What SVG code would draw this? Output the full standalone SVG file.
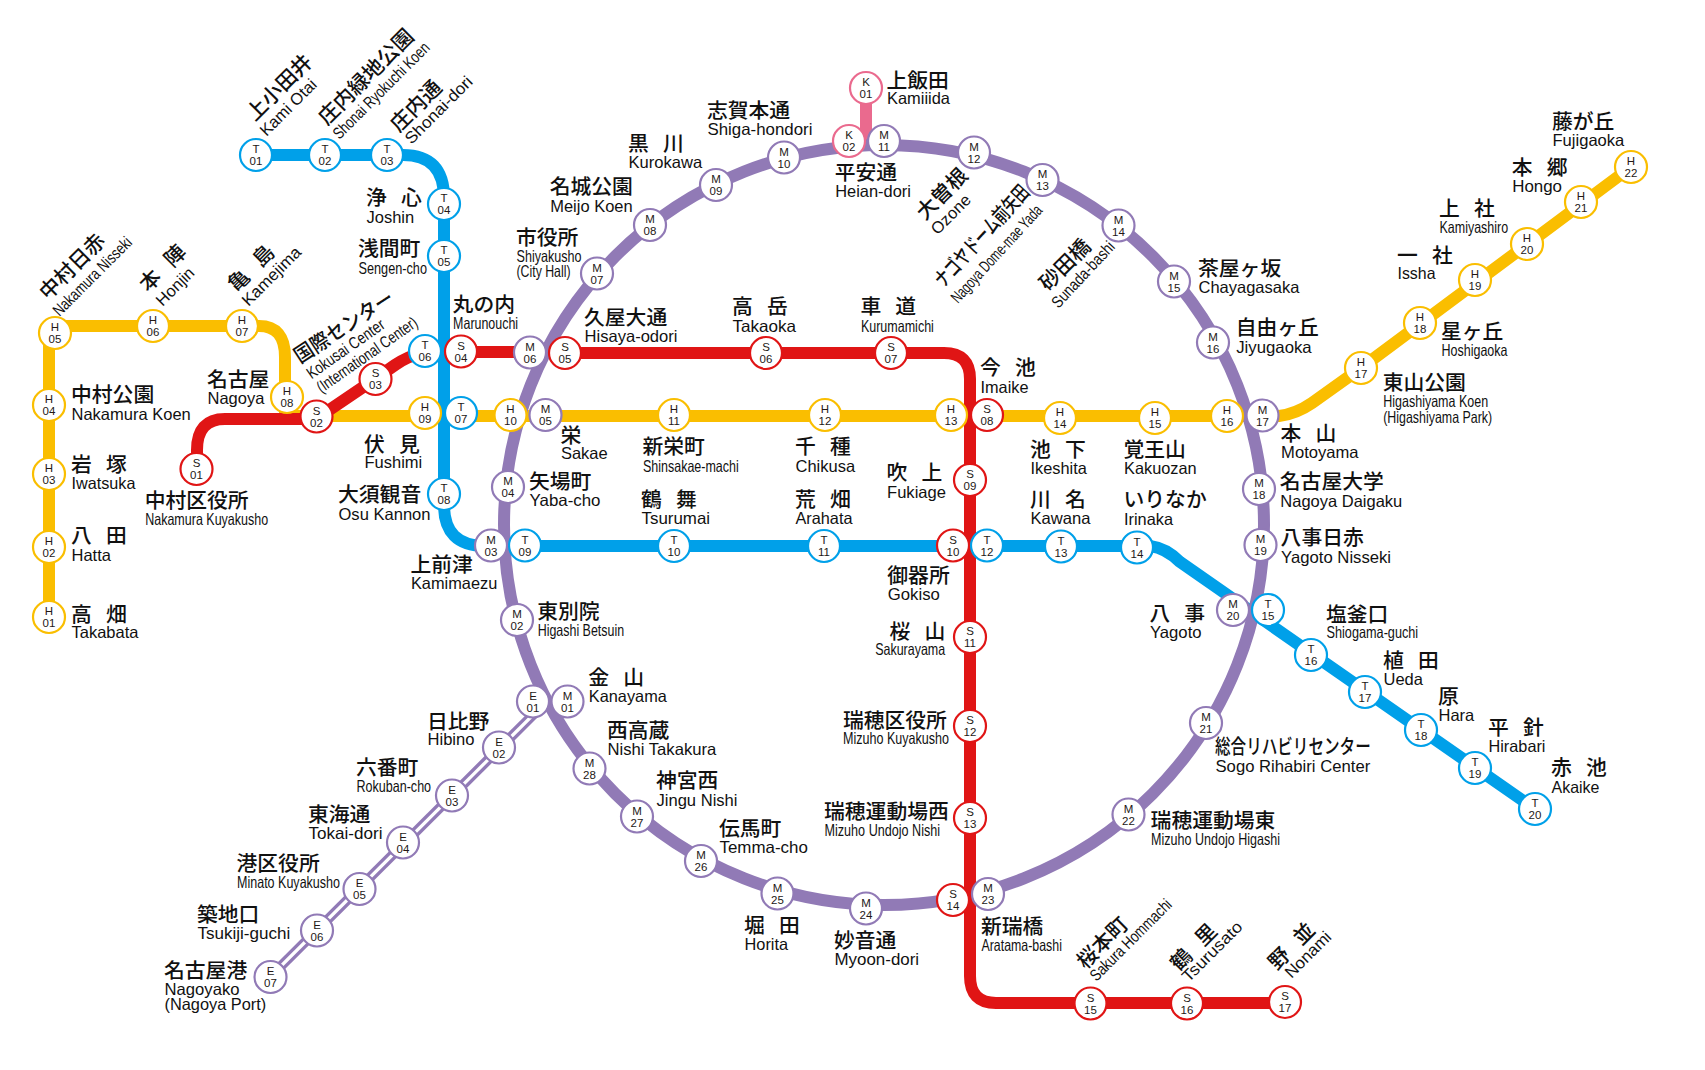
<svg xmlns="http://www.w3.org/2000/svg" width="1705" height="1070" viewBox="0 0 1705 1070">
<style>
.bg{fill:#fff}
.l{fill:none;stroke-width:12}
.ly{stroke:#fabe00}.lb{stroke:#00a0e9}.lr{stroke:#e01515}.lm{stroke:#917ab6}.lk{stroke:#ea6a8e}
.ew{fill:none;stroke:#fff;stroke-width:3.2}.ep{fill:none;stroke:#917ab6;stroke-width:10}
circle.n{fill:#fff;stroke-width:2.2}
.T{stroke:#00a0e9}.H{stroke:#fabe00}.S{stroke:#e01515}.M,.E{stroke:#917ab6}.K{stroke:#ea6a8e}
.c{font:11.5px "Liberation Sans",Arial,sans-serif;text-anchor:middle;fill:#231815}
.j{font:500 20.8px "Noto Sans CJK JP","Noto Sans CJK SC",sans-serif;fill:#111;translate:-1px 0}
.s{word-spacing:9.5px}
.e{font:16.5px "Liberation Sans",Arial,sans-serif;fill:#111;translate:-.5px 0}
</style>
<rect class="bg" width="1705" height="1070"/>
<g id="connectors">
<path class="l ly" d="M49,617V333L55,326H259Q285,326 285,357V416H1279Q1296,414 1312,403L1361,368L1631,167"/>
<path class="l lr" d="M197,469V450Q197,419 225,419H316L375,379L395,365Q408,356 425,352H530"/>
<path class="l lb" d="M256,155H403Q444,155 444,198V505Q444,546 485,546H1150Q1166,548 1180,562L1535,809"/>
<path class="ep" d="M270,977L540,708"/>
<path class="ew" d="M270,977L540,708"/>
<path class="l lk" d="M866,88V142"/>
<circle class="l lm" cx="884" cy="525" r="380"/>
<path class="l lr" d="M565,353H944Q970,353 970,379V976Q970,1003 996,1003H1285"/>
</g>
<g id="T01"><circle class="n T" cx="256" cy="155" r="16"/><text class="c" x="256" y="153">T</text><text class="c" x="256" y="165">01</text><text class="j" x="256" y="122" transform="rotate(-45 256 122)">上小田井</text><text class="e" x="267" y="137" transform="rotate(-45 267 137)">Kami Otai</text></g>
<g id="T02"><circle class="n T" cx="325" cy="155" r="16"/><text class="c" x="325" y="153">T</text><text class="c" x="325" y="165">02</text><text class="j" x="328" y="126" transform="rotate(-45 328 126)">庄内緑地公園</text><text class="e" x="340" y="140" transform="rotate(-45 340 140)" textLength="129" lengthAdjust="spacingAndGlyphs">Shonai Ryokuchi Koen</text></g>
<g id="T03"><circle class="n T" cx="387" cy="155" r="16"/><text class="c" x="387" y="153">T</text><text class="c" x="387" y="165">03</text><text class="j" x="400" y="133" transform="rotate(-45 400 133)">庄内通</text><text class="e" x="412" y="145" transform="rotate(-45 412 145)" textLength="88" lengthAdjust="spacingAndGlyphs">Shonai-dori</text></g>
<g id="T04"><circle class="n T" cx="444" cy="204" r="16"/><text class="c" x="444" y="202">T</text><text class="c" x="444" y="214">04</text><text class="j s" x="367" y="205">浄 心</text><text class="e" x="367" y="223">Joshin</text></g>
<g id="T05"><circle class="n T" cx="444" cy="256" r="16"/><text class="c" x="444" y="254">T</text><text class="c" x="444" y="266">05</text><text class="j" x="359" y="256">浅間町</text><text class="e" x="359" y="274" textLength="68.5" lengthAdjust="spacingAndGlyphs">Sengen-cho</text></g>
<g id="T06"><circle class="n T" cx="425" cy="351" r="16"/><text class="c" x="425" y="349">T</text><text class="c" x="425" y="361">06</text></g>
<g id="T07"><circle class="n T" cx="461" cy="413" r="16"/><text class="c" x="461" y="411">T</text><text class="c" x="461" y="423">07</text></g>
<g id="T08"><circle class="n T" cx="444" cy="494" r="16"/><text class="c" x="444" y="492">T</text><text class="c" x="444" y="504">08</text><text class="j" x="339" y="502">大須観音</text><text class="e" x="339" y="520" textLength="92" lengthAdjust="spacingAndGlyphs">Osu Kannon</text></g>
<g id="T09"><circle class="n T" cx="525" cy="545.500" r="16"/><text class="c" x="525" y="543.500">T</text><text class="c" x="525" y="555.500">09</text></g>
<g id="T10"><circle class="n T" cx="674" cy="546" r="16"/><text class="c" x="674" y="544">T</text><text class="c" x="674" y="556">10</text><text class="j s" x="642" y="506.500">鶴 舞</text><text class="e" x="642" y="524" textLength="68.600" lengthAdjust="spacingAndGlyphs">Tsurumai</text></g>
<g id="T11"><circle class="n T" cx="824" cy="546" r="16"/><text class="c" x="824" y="544">T</text><text class="c" x="824" y="556">11</text><text class="j s" x="796" y="506.500">荒 畑</text><text class="e" x="796" y="524" textLength="57" lengthAdjust="spacingAndGlyphs">Arahata</text></g>
<g id="T12"><circle class="n T" cx="987" cy="545.500" r="16"/><text class="c" x="987" y="543.500">T</text><text class="c" x="987" y="555.500">12</text><text class="j s" x="1031" y="506.500">川 名</text><text class="e" x="1031" y="524" textLength="60" lengthAdjust="spacingAndGlyphs">Kawana</text></g>
<g id="T13"><circle class="n T" cx="1061" cy="546.500" r="16"/><text class="c" x="1061" y="544.500">T</text><text class="c" x="1061" y="556.500">13</text><text class="j" x="1124.500" y="506.500">いりなか</text><text class="e" x="1124.500" y="525" textLength="49" lengthAdjust="spacingAndGlyphs">Irinaka</text></g>
<g id="T14"><circle class="n T" cx="1137" cy="547.500" r="16"/><text class="c" x="1137" y="545.500">T</text><text class="c" x="1137" y="557.500">14</text></g>
<g id="T15"><circle class="n T" cx="1268" cy="610" r="16"/><text class="c" x="1268" y="608">T</text><text class="c" x="1268" y="620">15</text></g>
<g id="T16"><circle class="n T" cx="1311" cy="655" r="16"/><text class="c" x="1311" y="653">T</text><text class="c" x="1311" y="665">16</text><text class="j" x="1327" y="621.500">塩釜口</text><text class="e" x="1327" y="638" textLength="91.700" lengthAdjust="spacingAndGlyphs">Shiogama-guchi</text></g>
<g id="T17"><circle class="n T" cx="1365" cy="692" r="16"/><text class="c" x="1365" y="690">T</text><text class="c" x="1365" y="702">17</text><text class="j s" x="1384" y="667.500">植 田</text><text class="e" x="1384" y="685">Ueda</text></g>
<g id="T18"><circle class="n T" cx="1421" cy="730" r="16"/><text class="c" x="1421" y="728">T</text><text class="c" x="1421" y="740">18</text><text class="j" x="1439" y="703.500">原</text><text class="e" x="1439" y="720.500">Hara</text></g>
<g id="T19"><circle class="n T" cx="1475" cy="768" r="16"/><text class="c" x="1475" y="766">T</text><text class="c" x="1475" y="778">19</text><text class="j s" x="1489" y="735">平 針</text><text class="e" x="1489" y="752" textLength="57" lengthAdjust="spacingAndGlyphs">Hirabari</text></g>
<g id="T20"><circle class="n T" cx="1535" cy="809" r="16"/><text class="c" x="1535" y="807">T</text><text class="c" x="1535" y="819">20</text><text class="j s" x="1552" y="775">赤 池</text><text class="e" x="1552" y="792.500" textLength="48" lengthAdjust="spacingAndGlyphs">Akaike</text></g>

<g id="H01"><circle class="n H" cx="49" cy="617" r="16"/><text class="c" x="49" y="615">H</text><text class="c" x="49" y="627">01</text><text class="j s" x="72" y="621.500">高 畑</text><text class="e" x="72" y="638">Takabata</text></g>
<g id="H02"><circle class="n H" cx="49" cy="547" r="16"/><text class="c" x="49" y="545">H</text><text class="c" x="49" y="557">02</text><text class="j s" x="72" y="543">八 田</text><text class="e" x="72" y="561">Hatta</text></g>
<g id="H03"><circle class="n H" cx="49" cy="474" r="16"/><text class="c" x="49" y="472">H</text><text class="c" x="49" y="484">03</text><text class="j s" x="72" y="471.500">岩 塚</text><text class="e" x="72" y="489" textLength="64" lengthAdjust="spacingAndGlyphs">Iwatsuka</text></g>
<g id="H04"><circle class="n H" cx="49" cy="405" r="16"/><text class="c" x="49" y="403">H</text><text class="c" x="49" y="415">04</text><text class="j" x="72" y="402">中村公園</text><text class="e" x="72" y="419.500">Nakamura Koen</text></g>
<g id="H05"><circle class="n H" cx="55" cy="333" r="16"/><text class="c" x="55" y="331">H</text><text class="c" x="55" y="343">05</text><text class="j" x="49" y="301" transform="rotate(-45 49 301)">中村日赤</text><text class="e" x="60" y="317" transform="rotate(-45 60 317)" textLength="104" lengthAdjust="spacingAndGlyphs">Nakamura Nisseki</text></g>
<g id="H06"><circle class="n H" cx="153" cy="326" r="16"/><text class="c" x="153" y="324">H</text><text class="c" x="153" y="336">06</text><text class="j s" x="149" y="293" transform="rotate(-45 149 293)">本 陣</text><text class="e" x="163" y="307" transform="rotate(-45 163 307)">Honjin</text></g>
<g id="H07"><circle class="n H" cx="242" cy="326" r="16"/><text class="c" x="242" y="324">H</text><text class="c" x="242" y="336">07</text><text class="j s" x="237.500" y="293" transform="rotate(-45 237.500 293)">亀 島</text><text class="e" x="249" y="307" transform="rotate(-45 249 307)" textLength="76" lengthAdjust="spacingAndGlyphs">Kamejima</text></g>
<g id="H08"><circle class="n H" cx="287" cy="397" r="16"/><text class="c" x="287" y="395">H</text><text class="c" x="287" y="407">08</text><text class="j" x="208" y="387">名古屋</text><text class="e" x="208" y="404">Nagoya</text></g>
<g id="H09"><circle class="n H" cx="425" cy="413" r="16"/><text class="c" x="425" y="411">H</text><text class="c" x="425" y="423">09</text><text class="j s" x="365" y="451.500">伏 見</text><text class="e" x="365" y="468">Fushimi</text></g>
<g id="H10"><circle class="n H" cx="510.500" cy="415" r="16"/><text class="c" x="510.500" y="413">H</text><text class="c" x="510.500" y="425">10</text></g>
<g id="H11"><circle class="n H" cx="674" cy="415" r="16"/><text class="c" x="674" y="413">H</text><text class="c" x="674" y="425">11</text><text class="j" x="643.500" y="454">新栄町</text><text class="e" x="643.500" y="471.500" textLength="95.700" lengthAdjust="spacingAndGlyphs">Shinsakae-machi</text></g>
<g id="H12"><circle class="n H" cx="825" cy="415" r="16"/><text class="c" x="825" y="413">H</text><text class="c" x="825" y="425">12</text><text class="j s" x="796" y="454">千 種</text><text class="e" x="796" y="471.500" textLength="59.600" lengthAdjust="spacingAndGlyphs">Chikusa</text></g>
<g id="H13"><circle class="n H" cx="951" cy="415" r="16"/><text class="c" x="951" y="413">H</text><text class="c" x="951" y="425">13</text></g>
<g id="H14"><circle class="n H" cx="1060" cy="418" r="16"/><text class="c" x="1060" y="416">H</text><text class="c" x="1060" y="428">14</text><text class="j s" x="1031" y="456.500">池 下</text><text class="e" x="1031" y="474" textLength="56.400" lengthAdjust="spacingAndGlyphs">Ikeshita</text></g>
<g id="H15"><circle class="n H" cx="1155" cy="418" r="16"/><text class="c" x="1155" y="416">H</text><text class="c" x="1155" y="428">15</text><text class="j" x="1124.500" y="456.500">覚王山</text><text class="e" x="1124.500" y="474" textLength="72.600" lengthAdjust="spacingAndGlyphs">Kakuozan</text></g>
<g id="H16"><circle class="n H" cx="1227" cy="416" r="16"/><text class="c" x="1227" y="414">H</text><text class="c" x="1227" y="426">16</text></g>
<g id="H17"><circle class="n H" cx="1361" cy="368" r="16"/><text class="c" x="1361" y="366">H</text><text class="c" x="1361" y="378">17</text><text class="j" x="1383.700" y="389.500">東山公園</text><text class="e" x="1383.700" y="406.500" textLength="105" lengthAdjust="spacingAndGlyphs">Higashiyama Koen</text><text class="e" x="1383.700" y="423.300" textLength="109" lengthAdjust="spacingAndGlyphs">(Higashiyama Park)</text></g>
<g id="H18"><circle class="n H" cx="1420" cy="323" r="16"/><text class="c" x="1420" y="321">H</text><text class="c" x="1420" y="333">18</text><text class="j" x="1442" y="338.500">星ヶ丘</text><text class="e" x="1442" y="356" textLength="66" lengthAdjust="spacingAndGlyphs">Hoshigaoka</text></g>
<g id="H19"><circle class="n H" cx="1475" cy="280" r="16"/><text class="c" x="1475" y="278">H</text><text class="c" x="1475" y="290">19</text><text class="j s" x="1398" y="262.500">一 社</text><text class="e" x="1398" y="279" textLength="38" lengthAdjust="spacingAndGlyphs">Issha</text></g>
<g id="H20"><circle class="n H" cx="1527" cy="244" r="16"/><text class="c" x="1527" y="242">H</text><text class="c" x="1527" y="254">20</text><text class="j s" x="1440" y="216">上 社</text><text class="e" x="1440" y="232.500" textLength="68.600" lengthAdjust="spacingAndGlyphs">Kamiyashiro</text></g>
<g id="H21"><circle class="n H" cx="1581" cy="202" r="16"/><text class="c" x="1581" y="200">H</text><text class="c" x="1581" y="212">21</text><text class="j s" x="1512.700" y="175">本 郷</text><text class="e" x="1512.700" y="191.500" textLength="49.800" lengthAdjust="spacingAndGlyphs">Hongo</text></g>
<g id="H22"><circle class="n H" cx="1631" cy="167" r="16"/><text class="c" x="1631" y="165">H</text><text class="c" x="1631" y="177">22</text><text class="j" x="1553" y="128.500">藤が丘</text><text class="e" x="1553" y="145.500" textLength="71.800" lengthAdjust="spacingAndGlyphs">Fujigaoka</text></g>

<g id="S01"><circle class="n S" cx="196.500" cy="469" r="16"/><text class="c" x="196.500" y="467">S</text><text class="c" x="196.500" y="479">01</text><text class="j" x="145.700" y="507.500">中村区役所</text><text class="e" x="145.700" y="525" textLength="123" lengthAdjust="spacingAndGlyphs">Nakamura Kuyakusho</text></g>
<g id="S02"><circle class="n S" cx="316.500" cy="416.500" r="16"/><text class="c" x="316.500" y="414.500">S</text><text class="c" x="316.500" y="426.500">02</text></g>
<g id="S03"><circle class="n S" cx="375.500" cy="379" r="16"/><text class="c" x="375.500" y="377">S</text><text class="c" x="375.500" y="389">03</text><text class="j" x="301" y="364" transform="rotate(-33 301 364)" textLength="114" lengthAdjust="spacingAndGlyphs">国際センター</text><text class="e" x="312" y="379.500" transform="rotate(-35 312 379.500)" textLength="91" lengthAdjust="spacingAndGlyphs">Kokusai Center</text><text class="e" x="322" y="393.500" transform="rotate(-35 322 393.500)" textLength="119" lengthAdjust="spacingAndGlyphs">(International Center)</text></g>
<g id="S04"><circle class="n S" cx="461" cy="351.500" r="16"/><text class="c" x="461" y="349.500">S</text><text class="c" x="461" y="361.500">04</text><text class="j" x="453.600" y="311.500">丸の内</text><text class="e" x="453.600" y="328.500" textLength="65" lengthAdjust="spacingAndGlyphs">Marunouchi</text></g>
<g id="S05"><circle class="n S" cx="565" cy="353" r="16"/><text class="c" x="565" y="351">S</text><text class="c" x="565" y="363">05</text><text class="j" x="585" y="324.500">久屋大通</text><text class="e" x="585" y="342" textLength="93" lengthAdjust="spacingAndGlyphs">Hisaya-odori</text></g>
<g id="S06"><circle class="n S" cx="766" cy="353" r="16"/><text class="c" x="766" y="351">S</text><text class="c" x="766" y="363">06</text><text class="j s" x="733" y="314">高 岳</text><text class="e" x="733" y="331.500" textLength="63.600" lengthAdjust="spacingAndGlyphs">Takaoka</text></g>
<g id="S07"><circle class="n S" cx="891" cy="353" r="16"/><text class="c" x="891" y="351">S</text><text class="c" x="891" y="363">07</text><text class="j s" x="861.400" y="314">車 道</text><text class="e" x="861.400" y="331.500" textLength="73" lengthAdjust="spacingAndGlyphs">Kurumamichi</text></g>
<g id="S08"><circle class="n S" cx="987" cy="415" r="16"/><text class="c" x="987" y="413">S</text><text class="c" x="987" y="425">08</text><text class="j s" x="981" y="375">今 池</text><text class="e" x="981" y="392.500" textLength="48" lengthAdjust="spacingAndGlyphs">Imaike</text></g>
<g id="S09"><circle class="n S" cx="970" cy="480" r="16"/><text class="c" x="970" y="478">S</text><text class="c" x="970" y="490">09</text><text class="j s" x="887.500" y="480">吹 上</text><text class="e" x="887.500" y="497.500" textLength="59" lengthAdjust="spacingAndGlyphs">Fukiage</text></g>
<g id="S10"><circle class="n S" cx="953" cy="545.500" r="16"/><text class="c" x="953" y="543.500">S</text><text class="c" x="953" y="555.500">10</text><text class="j" x="888.300" y="582.500">御器所</text><text class="e" x="888.300" y="600" textLength="52" lengthAdjust="spacingAndGlyphs">Gokiso</text></g>
<g id="S11"><circle class="n S" cx="970" cy="637" r="16"/><text class="c" x="970" y="635">S</text><text class="c" x="970" y="647">11</text><text class="j s" x="890.600" y="638.500">桜 山</text><text class="e" x="875.700" y="655" textLength="70" lengthAdjust="spacingAndGlyphs">Sakurayama</text></g>
<g id="S12"><circle class="n S" cx="970" cy="726" r="16"/><text class="c" x="970" y="724">S</text><text class="c" x="970" y="736">12</text><text class="j" x="843.900" y="727.500">瑞穂区役所</text><text class="e" x="843.500" y="744.300" textLength="106" lengthAdjust="spacingAndGlyphs">Mizuho Kuyakusho</text></g>
<g id="S13"><circle class="n S" cx="970" cy="818" r="16"/><text class="c" x="970" y="816">S</text><text class="c" x="970" y="828">13</text><text class="j" x="825" y="819">瑞穂運動場西</text><text class="e" x="825" y="836" textLength="115.600" lengthAdjust="spacingAndGlyphs">Mizuho Undojo Nishi</text></g>
<g id="S14"><circle class="n S" cx="953" cy="900" r="16"/><text class="c" x="953" y="898">S</text><text class="c" x="953" y="910">14</text></g>
<g id="S15"><circle class="n S" cx="1090.500" cy="1003.500" r="16"/><text class="c" x="1090.500" y="1001.500">S</text><text class="c" x="1090.500" y="1013.500">15</text><text class="j" x="1086.500" y="970" transform="rotate(-45 1086.500 970)">桜本町</text><text class="e" x="1097" y="982" transform="rotate(-45 1097 982)" textLength="108" lengthAdjust="spacingAndGlyphs">Sakura Hommachi</text></g>
<g id="S16"><circle class="n S" cx="1187" cy="1003.500" r="16"/><text class="c" x="1187" y="1001.500">S</text><text class="c" x="1187" y="1013.500">16</text><text class="j s" x="1180" y="972" transform="rotate(-45 1180 972)">鶴 里</text><text class="e" x="1189" y="983" transform="rotate(-45 1189 983)" textLength="78" lengthAdjust="spacingAndGlyphs">Tsurusato</text></g>
<g id="S17"><circle class="n S" cx="1285" cy="1002" r="16"/><text class="c" x="1285" y="1000">S</text><text class="c" x="1285" y="1012">17</text><text class="j s" x="1278" y="971" transform="rotate(-45 1278 971)">野 並</text><text class="e" x="1292" y="979" transform="rotate(-45 1292 979)" textLength="58" lengthAdjust="spacingAndGlyphs">Nonami</text></g>

<g id="M01"><circle class="n M" cx="567.500" cy="701.500" r="16"/><text class="c" x="567.500" y="699.500">M</text><text class="c" x="567.500" y="711.500">01</text><text class="j s" x="589.300" y="685">金 山</text><text class="e" x="589.300" y="702.300" textLength="78" lengthAdjust="spacingAndGlyphs">Kanayama</text></g>
<g id="M02"><circle class="n M" cx="517" cy="620" r="16"/><text class="c" x="517" y="618">M</text><text class="c" x="517" y="630">02</text><text class="j" x="538.200" y="618.500">東別院</text><text class="e" x="538.200" y="636" textLength="86.400" lengthAdjust="spacingAndGlyphs">Higashi Betsuin</text></g>
<g id="M03"><circle class="n M" cx="491" cy="545.500" r="16"/><text class="c" x="491" y="543.500">M</text><text class="c" x="491" y="555.500">03</text><text class="j" x="411.400" y="571.500">上前津</text><text class="e" x="411.400" y="589.300" textLength="86.400" lengthAdjust="spacingAndGlyphs">Kamimaezu</text></g>
<g id="M04"><circle class="n M" cx="508" cy="487" r="16"/><text class="c" x="508" y="485">M</text><text class="c" x="508" y="497">04</text><text class="j" x="530" y="488.500">矢場町</text><text class="e" x="530" y="506" textLength="71" lengthAdjust="spacingAndGlyphs">Yaba-cho</text></g>
<g id="M05"><circle class="n M" cx="545.500" cy="415" r="16"/><text class="c" x="545.500" y="413">M</text><text class="c" x="545.500" y="425">05</text><text class="j" x="561.400" y="442.500">栄</text><text class="e" x="561.400" y="459.300">Sakae</text></g>
<g id="M06"><circle class="n M" cx="530" cy="352.500" r="16"/><text class="c" x="530" y="350.500">M</text><text class="c" x="530" y="362.500">06</text></g>
<g id="M07"><circle class="n M" cx="597" cy="273.500" r="16"/><text class="c" x="597" y="271.500">M</text><text class="c" x="597" y="283.500">07</text><text class="j" x="517" y="244.500">市役所</text><text class="e" x="517" y="261.700" textLength="65" lengthAdjust="spacingAndGlyphs">Shiyakusho</text><text class="e" x="517" y="276.700" textLength="54" lengthAdjust="spacingAndGlyphs">(City Hall)</text></g>
<g id="M08"><circle class="n M" cx="650" cy="225" r="16"/><text class="c" x="650" y="223">M</text><text class="c" x="650" y="235">08</text><text class="j" x="550.700" y="194">名城公園</text><text class="e" x="550.700" y="211.700" textLength="82.500" lengthAdjust="spacingAndGlyphs">Meijo Koen</text></g>
<g id="M09"><circle class="n M" cx="716" cy="185" r="16"/><text class="c" x="716" y="183">M</text><text class="c" x="716" y="195">09</text><text class="j s" x="629" y="151">黒 川</text><text class="e" x="629" y="167.700" textLength="73.600" lengthAdjust="spacingAndGlyphs">Kurokawa</text></g>
<g id="M10"><circle class="n M" cx="784" cy="157.500" r="16"/><text class="c" x="784" y="155.500">M</text><text class="c" x="784" y="167.500">10</text><text class="j" x="707.900" y="117.500">志賀本通</text><text class="e" x="707.900" y="135" textLength="105" lengthAdjust="spacingAndGlyphs">Shiga-hondori</text></g>
<g id="M11"><circle class="n M" cx="884" cy="141" r="16"/><text class="c" x="884" y="139">M</text><text class="c" x="884" y="151">11</text></g>
<g id="M12"><circle class="n M" cx="974" cy="152.500" r="16"/><text class="c" x="974" y="150.500">M</text><text class="c" x="974" y="162.500">12</text><text class="j" x="926" y="221" transform="rotate(-45 926 221)">大曽根</text><text class="e" x="938" y="235.500" transform="rotate(-45 938 235.500)">Ozone</text></g>
<g id="M13"><circle class="n M" cx="1042.500" cy="180" r="16"/><text class="c" x="1042.500" y="178">M</text><text class="c" x="1042.500" y="190">13</text><text class="j" x="944.600" y="288.300" transform="rotate(-47.500 944.600 288.300)" textLength="129" lengthAdjust="spacingAndGlyphs">ナゴヤドーム前矢田</text><text class="e" x="958.500" y="304" transform="rotate(-47.500 958.500 304)" textLength="126" lengthAdjust="spacingAndGlyphs">Nagoya Dome-mae Yada</text></g>
<g id="M14"><circle class="n M" cx="1118.500" cy="225.500" r="16"/><text class="c" x="1118.500" y="223.500">M</text><text class="c" x="1118.500" y="235.500">14</text><text class="j" x="1049" y="292" transform="rotate(-45 1049 292)">砂田橋</text><text class="e" x="1059" y="309" transform="rotate(-47 1059 309)" textLength="84" lengthAdjust="spacingAndGlyphs">Sunada-bashi</text></g>
<g id="M15"><circle class="n M" cx="1174" cy="281.500" r="16"/><text class="c" x="1174" y="279.500">M</text><text class="c" x="1174" y="291.500">15</text><text class="j" x="1199" y="275.500">茶屋ヶ坂</text><text class="e" x="1199" y="293.300" textLength="100.800" lengthAdjust="spacingAndGlyphs">Chayagasaka</text></g>
<g id="M16"><circle class="n M" cx="1213" cy="342.500" r="16"/><text class="c" x="1213" y="340.500">M</text><text class="c" x="1213" y="352.500">16</text><text class="j" x="1236.700" y="335">自由ヶ丘</text><text class="e" x="1236.700" y="352.700" textLength="75.500" lengthAdjust="spacingAndGlyphs">Jiyugaoka</text></g>
<g id="M17"><circle class="n M" cx="1262.500" cy="415.500" r="16"/><text class="c" x="1262.500" y="413.500">M</text><text class="c" x="1262.500" y="425.500">17</text><text class="j s" x="1281.600" y="441">本 山</text><text class="e" x="1281.600" y="458" textLength="77.500" lengthAdjust="spacingAndGlyphs">Motoyama</text></g>
<g id="M18"><circle class="n M" cx="1259" cy="489" r="16"/><text class="c" x="1259" y="487">M</text><text class="c" x="1259" y="499">18</text><text class="j" x="1280.800" y="489">名古屋大学</text><text class="e" x="1280.800" y="506.700" textLength="122" lengthAdjust="spacingAndGlyphs">Nagoya Daigaku</text></g>
<g id="M19"><circle class="n M" cx="1260.500" cy="545" r="16"/><text class="c" x="1260.500" y="543">M</text><text class="c" x="1260.500" y="555">19</text><text class="j" x="1281.600" y="545">八事日赤</text><text class="e" x="1281.600" y="562.700" textLength="110" lengthAdjust="spacingAndGlyphs">Yagoto Nisseki</text></g>
<g id="M20"><circle class="n M" cx="1233" cy="610" r="16"/><text class="c" x="1233" y="608">M</text><text class="c" x="1233" y="620">20</text><text class="j s" x="1150.400" y="621">八 事</text><text class="e" x="1150.400" y="638.300" textLength="51.700" lengthAdjust="spacingAndGlyphs">Yagoto</text></g>
<g id="M21"><circle class="n M" cx="1206" cy="723" r="16"/><text class="c" x="1206" y="721">M</text><text class="c" x="1206" y="733">21</text><text class="j" x="1216" y="753.500" textLength="155.700" lengthAdjust="spacingAndGlyphs">総合リハビリセンター</text><text class="e" x="1216" y="772.300" textLength="154.700" lengthAdjust="spacingAndGlyphs">Sogo Rihabiri Center</text></g>
<g id="M22"><circle class="n M" cx="1128.500" cy="814.500" r="16"/><text class="c" x="1128.500" y="812.500">M</text><text class="c" x="1128.500" y="824.500">22</text><text class="j" x="1151.600" y="827.500">瑞穂運動場東</text><text class="e" x="1151.600" y="845" textLength="129" lengthAdjust="spacingAndGlyphs">Mizuho Undojo Higashi</text></g>
<g id="M23"><circle class="n M" cx="988" cy="894" r="16"/><text class="c" x="988" y="892">M</text><text class="c" x="988" y="904">23</text><text class="j" x="982" y="934">新瑞橋</text><text class="e" x="982" y="951" textLength="80.400" lengthAdjust="spacingAndGlyphs">Aratama-bashi</text></g>
<g id="M24"><circle class="n M" cx="866" cy="908.500" r="16"/><text class="c" x="866" y="906.500">M</text><text class="c" x="866" y="918.500">24</text><text class="j" x="835" y="947.500">妙音通</text><text class="e" x="835" y="965" textLength="84.600" lengthAdjust="spacingAndGlyphs">Myoon-dori</text></g>
<g id="M25"><circle class="n M" cx="777.500" cy="893.500" r="16"/><text class="c" x="777.500" y="891.500">M</text><text class="c" x="777.500" y="903.500">25</text><text class="j s" x="745" y="932.500">堀 田</text><text class="e" x="745" y="950" textLength="43.600" lengthAdjust="spacingAndGlyphs">Horita</text></g>
<g id="M26"><circle class="n M" cx="701" cy="861" r="16"/><text class="c" x="701" y="859">M</text><text class="c" x="701" y="871">26</text><text class="j" x="720" y="835.500">伝馬町</text><text class="e" x="720" y="852.700" textLength="88.400" lengthAdjust="spacingAndGlyphs">Temma-cho</text></g>
<g id="M27"><circle class="n M" cx="637" cy="816.500" r="16"/><text class="c" x="637" y="814.500">M</text><text class="c" x="637" y="826.500">27</text><text class="j" x="657" y="787.500">神宮西</text><text class="e" x="657" y="805.700" textLength="81" lengthAdjust="spacingAndGlyphs">Jingu Nishi</text></g>
<g id="M28"><circle class="n M" cx="589.500" cy="768.500" r="16"/><text class="c" x="589.500" y="766.500">M</text><text class="c" x="589.500" y="778.500">28</text><text class="j" x="607.900" y="737.500">西高蔵</text><text class="e" x="607.900" y="755" textLength="109" lengthAdjust="spacingAndGlyphs">Nishi Takakura</text></g>

<g id="K01"><circle class="n K" cx="866" cy="88" r="16"/><text class="c" x="866" y="86">K</text><text class="c" x="866" y="98">01</text><text class="j" x="887.500" y="87.500">上飯田</text><text class="e" x="887.500" y="104.300" textLength="63" lengthAdjust="spacingAndGlyphs">Kamiiida</text></g>
<g id="K02"><circle class="n K" cx="849" cy="141" r="16"/><text class="c" x="849" y="139">K</text><text class="c" x="849" y="151">02</text><text class="j" x="835.700" y="179.500">平安通</text><text class="e" x="835.700" y="197" textLength="75.700" lengthAdjust="spacingAndGlyphs">Heian-dori</text></g>

<g id="E01"><circle class="n E" cx="533" cy="701.500" r="16"/><text class="c" x="533" y="699.500">E</text><text class="c" x="533" y="711.500">01</text></g>
<g id="E02"><circle class="n E" cx="499" cy="747.500" r="16"/><text class="c" x="499" y="745.500">E</text><text class="c" x="499" y="757.500">02</text><text class="j" x="428" y="728.500">日比野</text><text class="e" x="428" y="745" textLength="47" lengthAdjust="spacingAndGlyphs">Hibino</text></g>
<g id="E03"><circle class="n E" cx="452" cy="795.500" r="16"/><text class="c" x="452" y="793.500">E</text><text class="c" x="452" y="805.500">03</text><text class="j" x="357" y="775">六番町</text><text class="e" x="357" y="792.300" textLength="74.600" lengthAdjust="spacingAndGlyphs">Rokuban-cho</text></g>
<g id="E04"><circle class="n E" cx="403" cy="842.500" r="16"/><text class="c" x="403" y="840.500">E</text><text class="c" x="403" y="852.500">04</text><text class="j" x="309" y="821.500">東海通</text><text class="e" x="309" y="839" textLength="74" lengthAdjust="spacingAndGlyphs">Tokai-dori</text></g>
<g id="E05"><circle class="n E" cx="359.500" cy="889" r="16"/><text class="c" x="359.500" y="887">E</text><text class="c" x="359.500" y="899">05</text><text class="j" x="237.500" y="870.500">港区役所</text><text class="e" x="237.500" y="888.300" textLength="103" lengthAdjust="spacingAndGlyphs">Minato Kuyakusho</text></g>
<g id="E06"><circle class="n E" cx="317" cy="930.500" r="16"/><text class="c" x="317" y="928.500">E</text><text class="c" x="317" y="940.500">06</text><text class="j" x="197.900" y="921.500">築地口</text><text class="e" x="197.900" y="939.300" textLength="92.900" lengthAdjust="spacingAndGlyphs">Tsukiji-guchi</text></g>
<g id="E07"><circle class="n E" cx="270.500" cy="977" r="16"/><text class="c" x="270.500" y="975">E</text><text class="c" x="270.500" y="987">07</text><text class="j" x="165" y="977.500">名古屋港</text><text class="e" x="165" y="995" textLength="75" lengthAdjust="spacingAndGlyphs">Nagoyako</text><text class="e" x="165" y="1010" textLength="101.800" lengthAdjust="spacingAndGlyphs">(Nagoya Port)</text></g>
</svg>
